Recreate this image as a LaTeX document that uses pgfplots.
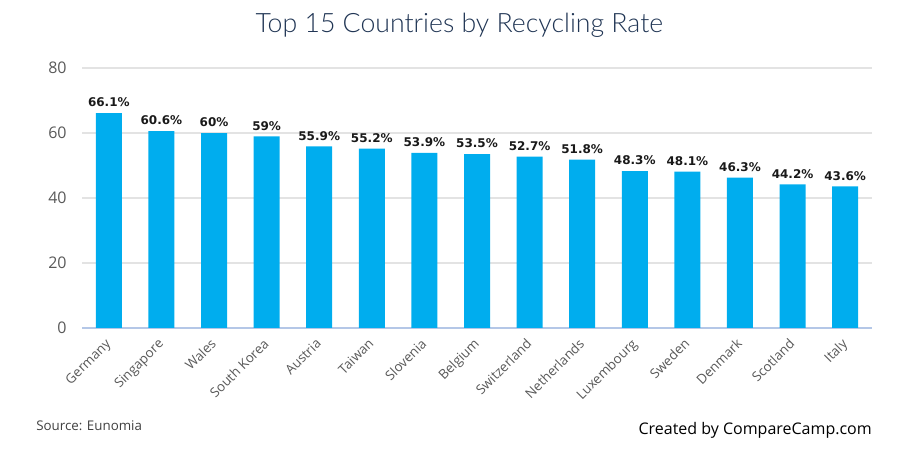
\documentclass[border=0pt]{standalone}
\usepackage{pgfplots}
\pgfplotsset{compat=1.18}
\usepackage{fontspec}
\setmainfont{Open Sans}
\newfontfamily\titlefont{Lato Light}
\newfontfamily\barfont{DejaVu Sans}
\definecolor{barblue}{HTML}{00ADEE}
\definecolor{gridgray}{HTML}{E3E3E3}
\definecolor{axisblue}{HTML}{B4C7E7}
\definecolor{ticktext}{HTML}{595959}
\definecolor{titlecol}{HTML}{203554}
\begin{document}
\begin{tikzpicture}
\useasboundingbox (0pt,0pt) rectangle (678pt,348pt);
\begin{axis}[
  at={(61.5pt,102pt)}, anchor=south west,
  scale only axis, width=592.5pt, height=195pt,
  ymin=0, ymax=80, ytick={0,20,40,60,80},
  xmin=-0.51, xmax=14.51,
  xtick={0,...,14},
  xticklabels={Germany,Singapore,Wales,South Korea,Austria,Taiwan,Slovenia,Belgium,Switzerland,Netherlands,Luxembourg,Sweden,Denmark,Scotland,Italy},
  x tick label style={rotate=45, anchor=north east, font=\fontsize{10}{12}\selectfont, text=ticktext, inner sep=1pt, xshift=-6.2pt, yshift=-1.7pt},
  y tick label style={font=\fontsize{12}{14}\selectfont, text=ticktext, xshift=-8pt},
  /pgf/number format/assume math mode=true,
  ymajorgrids, grid style={gridgray, line width=0.8pt},
  major tick length=0pt,
  axis line style={draw=none},
  axis x line*=bottom, axis y line*=left,
  x axis line style={draw=axisblue, line width=0.8pt},
  clip=false,
  ybar, bar width=19.5pt,
  nodes near coords={\pgfmathprintnumber{\pgfplotspointmeta}\%},
  every node near coord/.append style={font=\barfont\bfseries\fontsize{9}{11}\selectfont, text=black!90, yshift=1pt},
]
\addplot[fill=barblue, draw=none] coordinates {
(0,66.1) (1,60.6) (2,60) (3,59) (4,55.9) (5,55.2) (6,53.9) (7,53.5)
(8,52.7) (9,51.8) (10,48.3) (11,48.1) (12,46.3) (13,44.2) (14,43.6)};
\end{axis}
\node[font=\titlefont\fontsize{20}{24}\selectfont, text=titlecol] at (344.5pt,329pt) {Top 15 Countries by Recycling Rate};
\node[anchor=west, font=\fontsize{10}{12}\selectfont, text=black!75, inner sep=0pt] at (27pt,28.5pt) {Source: Eunomia};
\node[anchor=east, font=\fontsize{12}{14}\selectfont, text=black, inner sep=0pt] at (654pt,25.5pt) {Created by CompareCamp.com};
\end{tikzpicture}
\end{document}
